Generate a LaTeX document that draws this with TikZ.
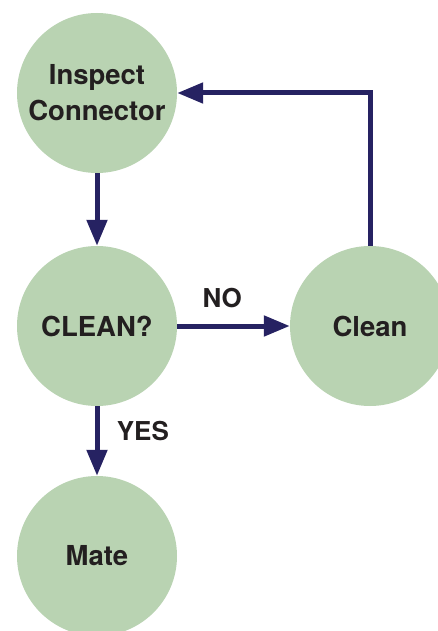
\documentclass[tikz,border=0pt]{standalone}
\usepackage{fontspec}
\setmainfont{TeX Gyre Heros}
\usetikzlibrary{arrows.meta}
\definecolor{stepgreen}{RGB}{185,211,178}
\definecolor{flowblue}{RGB}{38,34,98}
\definecolor{textblack}{RGB}{35,31,32}
\tikzset{
    state/.style={circle, fill=stepgreen, minimum size=160pt, inner sep=0pt, align=center,
        font=\fontsize{27.5}{36}\selectfont\bfseries, text=textblack},
    flow/.style={-{Triangle[length=26pt, width=20pt]}, line width=5pt, flowblue},
    answer/.style={font=\fontsize{26}{30}\selectfont\bfseries, text=textblack}
}

\begin{document}
\begin{tikzpicture}[x=1pt, y=-1pt]
    \clip (0,0) rectangle (438,631);

    \path
        node[state] (inspect) at (97,93) {Inspect\\Connector}
        node[state] (check) at (97,326) {CLEAN?}
        node[state] (clean) at (370,326) {Clean}
        node[state] (mate) at (97,556) {Mate};

    \draw[flow] (inspect) -- (check);
    \draw[flow] (check) -- node[answer, pos=0.4, above=12pt] {NO} (clean);
    \draw[flow] (check) -- node[answer, pos=0.35, right=14pt] {YES} (mate);
    \draw[flow] (clean) |- (inspect);
\end{tikzpicture}
\end{document}
